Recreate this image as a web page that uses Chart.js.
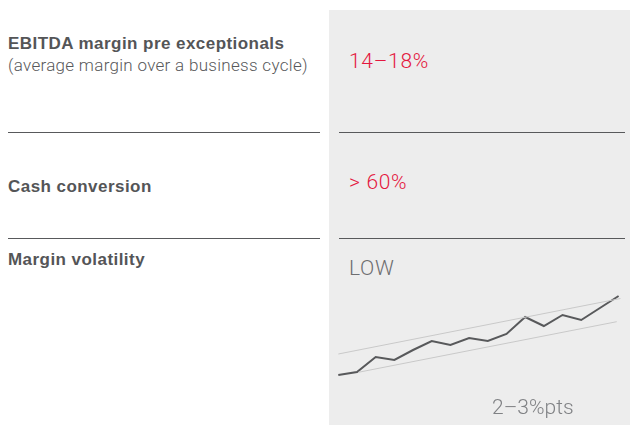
<!DOCTYPE html>
<html>
<head>
<meta charset="utf-8">
<script src="https://cdn.jsdelivr.net/npm/chart.js@4"></script>
<style>
  body { margin: 0; width: 630px; height: 425px; background: #fff; position: relative; overflow: hidden; font-family: Roboto, "Liberation Sans", sans-serif; }
  .panel { position: absolute; left: 329px; top: 10px; width: 301px; height: 415px; background: #ededed; }
  .t { position: absolute; line-height: 1; white-space: nowrap; }
  .lbl { font-family: "Liberation Sans", Arial, sans-serif; font-weight: 700; font-size: 17px; letter-spacing: 0.45px; color: #545557; left: 8px; }
  .sub { font-weight: 300; font-size: 17px; letter-spacing: 0.3px; color: #58595b; left: 8px; }
  .val { font-weight: 300; font-size: 21px; letter-spacing: 0.7px; color: #e4173e; left: 349px; }
  .grey { font-weight: 300; font-size: 21px; letter-spacing: 0.7px; color: #6d6e70; }
  .rule { position: absolute; height: 1px; background: #58595b; }
  #wrap { position: absolute; left: 330px; top: 280px; width: 300px; height: 120px; }
</style>
</head>
<body>
<div class="panel"></div>

<div class="t lbl" style="top:34.6px">EBITDA margin pre exceptionals</div>
<div class="t sub" style="top:56.7px">(average margin over a business cycle)</div>
<div class="t val" style="top:50.6px">14–18%</div>

<div class="rule" style="left:8px;width:312px;top:132px"></div>
<div class="rule" style="left:339px;width:286px;top:132px"></div>

<div class="t lbl" style="top:177.9px">Cash conversion</div>
<div class="t val" style="top:172.3px">&gt; 60%</div>

<div class="rule" style="left:8px;width:312px;top:238px"></div>
<div class="rule" style="left:339px;width:286px;top:238px"></div>

<div class="t lbl" style="top:250.6px">Margin volatility</div>
<div class="t grey" style="left:349px;top:258px">LOW</div>

<div id="wrap"><canvas id="vol"></canvas></div>

<div class="t grey" style="left:492px;top:397.3px;letter-spacing:0;color:#808285">2–3%pts</div>

<script>
// DATA
const periods = [0, 1, 2, 3, 4, 5, 6, 7, 8, 9, 10, 11, 12, 13, 14, 15];
const margin = [20, 23, 38, 35, 45, 54, 50, 57, 54, 61, 78, 69, 80, 75, 87, 99];
const upperBandX = [0, 15.1];
const upperBandY = [41, 96.5];
const lowerBandX = [1.07, 14.9];
const lowerBandY = [22.7, 73.3];

const pts = (xs, ys) => xs.map((x, i) => ({ x: x, y: ys[i] }));

new Chart(document.getElementById("vol"), {
  type: "line",
  data: {
    datasets: [
      {
        data: pts(upperBandX, upperBandY),
        borderColor: "#c9c9c9",
        borderWidth: 1,
        pointRadius: 0,
        clip: false
      },
      {
        data: pts(lowerBandX, lowerBandY),
        borderColor: "#c9c9c9",
        borderWidth: 1,
        pointRadius: 0,
        clip: false
      },
      {
        data: pts(periods, margin),
        borderColor: "#58595b",
        borderWidth: 2,
        pointRadius: 0,
        tension: 0,
        clip: false
      }
    ]
  },
  options: {
    responsive: true,
    maintainAspectRatio: false,
    animation: false,
    layout: { padding: { left: 8.3, right: 11.4, top: 15, bottom: 5 } },
    plugins: { legend: { display: false }, tooltip: { enabled: false } },
    scales: {
      x: { type: "linear", min: 0, max: 15, display: false },
      y: { min: 0, max: 100, display: false }
    }
  }
});
</script>
</body>
</html>
